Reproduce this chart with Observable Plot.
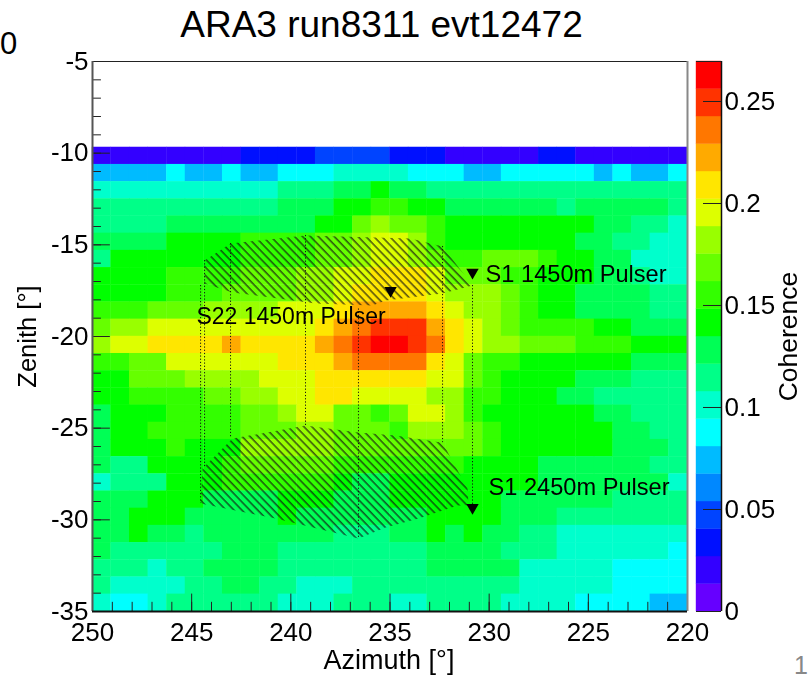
<!DOCTYPE html>
<html>
<head>
<meta charset="utf-8">
<script src="https://cdn.jsdelivr.net/npm/d3@7"></script>
<script src="https://cdn.jsdelivr.net/npm/@observablehq/plot@0.6"></script>
<style>
  html, body { margin: 0; padding: 0; background: #fff; }
  #chart { position: relative; width: 811px; height: 678px; overflow: hidden; font-family: "Liberation Sans", Arial, sans-serif; color: #000; }
  .abs { position: absolute; white-space: nowrap; line-height: 1; }
</style>
</head>
<body>
<div id="chart">
  <svg width="0" height="0" style="position:absolute">
    <defs>
      <pattern id="hatch" patternUnits="userSpaceOnUse" width="5.7" height="5.7" patternTransform="rotate(-44)">
        <line x1="2" y1="0" x2="2" y2="5.7" stroke="#111" stroke-width="1.1"></line>
      </pattern>
    </defs>
  </svg>
  <div class="abs" style="left:0;width:763px;top:6px;text-align:center;font-size:37px">ARA3 run8311 evt12472</div>
  <div class="abs" style="left:0;top:28px;font-size:31px">0</div>
  <div class="abs" style="left:794px;top:653px;font-size:25px;color:#888">1</div>
</div>
<script>
// Coherence in thousandths, top row (zenith -10) first; columns from azimuth 250 toward 220.
const coherenceMilli = [
[20,20,20,20,20,20,20,20,34,34,34,34,47,47,47,47,34,34,34,20,20,20,20,20,34,34,20,20,20,20,20,20],
[74,74,74,74,88,74,74,88,74,74,88,88,88,101,101,101,101,88,88,88,74,74,88,88,88,88,88,74,88,74,74,88],
[101,101,101,101,101,101,101,101,101,101,115,115,115,128,128,142,128,128,115,115,115,115,115,115,115,115,115,115,115,115,115,115],
[115,115,115,115,115,115,115,115,115,115,128,128,128,142,142,155,155,142,142,128,128,128,128,128,128,115,128,128,128,128,128,115],
[115,115,115,115,128,128,128,128,128,128,128,128,142,142,169,182,169,169,155,142,142,142,142,142,142,142,142,128,128,115,115,101],
[128,128,128,128,142,142,142,142,155,155,155,155,169,169,182,196,196,182,155,142,142,142,142,142,142,142,128,128,115,115,101,101],
[115,142,142,142,142,142,142,142,155,155,155,155,169,169,182,196,196,182,169,155,155,169,169,169,155,142,142,128,128,101,101,101],
[142,142,142,142,155,155,155,155,169,169,169,182,182,196,196,209,209,209,196,169,169,169,155,155,142,142,142,128,128,115,101,101],
[142,142,142,142,155,155,155,169,169,169,169,182,182,196,209,209,209,209,196,182,182,182,169,155,142,142,128,128,128,128,115,115],
[155,155,155,169,169,169,182,182,182,182,196,196,196,209,222,222,222,222,209,196,182,182,169,155,142,142,128,128,128,128,115,115],
[169,182,182,196,196,196,196,196,196,196,196,196,209,222,236,249,249,249,222,209,196,182,169,155,155,155,155,142,142,128,128,128],
[182,196,196,209,209,209,209,222,209,209,209,209,222,236,249,263,263,249,236,209,196,182,182,169,169,169,155,155,155,142,142,142],
[155,155,169,169,196,196,196,196,196,196,209,209,209,222,236,236,236,236,209,196,169,155,155,142,142,142,142,142,142,128,128,128],
[142,142,169,169,169,182,182,182,182,196,196,196,209,209,209,209,209,209,196,196,169,155,142,142,142,142,128,128,128,115,115,115],
[142,142,155,155,155,155,169,169,182,182,196,196,209,209,196,196,196,196,182,182,155,155,142,142,142,128,128,115,115,115,115,115],
[128,142,142,142,155,155,155,155,169,169,182,196,196,169,169,155,169,196,196,182,155,142,142,142,142,142,142,128,128,115,115,115],
[128,142,142,155,155,155,155,155,169,169,169,182,182,169,169,169,155,182,182,182,169,155,142,142,142,142,142,142,128,128,115,115],
[128,142,142,142,155,142,142,142,182,182,182,182,182,169,169,169,169,169,169,169,169,155,142,142,142,142,142,142,128,128,128,115],
[128,115,115,142,142,142,142,155,169,169,169,169,169,155,155,155,155,155,155,155,142,142,142,142,128,128,128,128,128,128,115,115],
[101,115,115,115,142,142,142,155,155,155,155,155,155,142,128,128,142,142,142,142,142,142,142,142,128,128,128,128,128,128,128,101],
[128,128,128,142,142,142,128,128,128,128,142,142,142,128,128,128,142,142,142,142,142,142,128,128,128,128,128,128,115,115,115,115],
[128,128,142,142,142,128,128,128,128,128,142,128,128,128,128,128,128,128,142,142,142,142,128,128,128,115,115,115,115,115,115,115],
[128,128,142,128,128,115,128,128,128,128,128,128,128,115,115,115,128,128,142,128,142,128,128,115,115,101,101,101,101,101,101,101],
[128,115,115,115,115,115,115,128,128,128,115,115,115,115,115,115,115,115,128,128,128,128,115,115,115,101,101,101,101,101,101,88],
[115,115,115,101,115,115,128,128,128,128,115,115,115,115,115,115,115,115,128,128,128,128,128,101,101,101,101,101,88,88,88,88],
[115,101,101,101,101,115,115,128,128,115,115,101,101,101,115,115,115,115,115,115,115,115,115,101,101,101,101,101,88,88,88,88],
[101,88,88,101,115,115,115,115,115,115,101,101,101,115,115,115,101,101,115,115,115,115,101,101,101,101,88,88,88,88,74,74]
];
const azimuthStart = 250;
const zenithTop = -9.6875;
const binDegrees = 0.9375;

// Colour levels of the palette, lowest first.
const levelTop = 0.2696;
const palette = ["#6600ff","#3300ff","#0010ff","#0044ff","#0088ff","#00bbff","#00ffff","#00ffcc","#00ff88","#00ff55","#00ff00","#33ff00","#66ff00","#99ff00","#ddff00","#ffe600","#ffaa00","#ff7700","#ff3300","#ff0000"];
const thresholds = palette.slice(1).map((_, i) => (i + 1) * levelTop / palette.length);

const azimuthLabels = [250,245,240,235,230,225,220];
const zenithLabels = [-5,-10,-15,-20,-25,-30,-35];
const azimuthMinor = d3.range(220, 251);
const zenithMinor = d3.range(-35, -4);
const coherenceLabels = [0,0.05,0.1,0.15,0.2,0.25];

const hatchTop = [
  [244.35,-15.86],[243.04,-14.93],[239.26,-14.49],[233.96,-14.66],[232.35,-15.09],[230.84,-17.22],
  [232.35,-17.66],[235.22,-18.04],[235.88,-18.31],[238.75,-18.2],[242.94,-17.6],[244.35,-17.11]
];
const hatchBottom = [
  [244.45,-27.2],[242.94,-25.57],[239.26,-24.86],[236.59,-25.24],[234.72,-25.4],[232.35,-25.79],[231.09,-28.3],[231.04,-29.22],
  [231.59,-29.22],[233.56,-29.93],[235.22,-30.42],[236.59,-31.02],[240.77,-29.93],[244.55,-29.11]
];
const dotted = [
  {az:244.55, from:-17.22, to:-29.11},
  {az:244.35, from:-15.86, to:-27.2},
  {az:243.04, from:-14.93, to:-25.57},
  {az:239.26, from:-14.49, to:-24.86},
  {az:236.59, from:-18.5, to:-31.02},
  {az:232.35, from:-15.09, to:-25.79},
  {az:230.84, from:-17.22, to:-29.22}
];
const pulsers = [{az:230.84, zen:-16.5},{az:234.97, zen:-17.49},{az:230.84, zen:-29.33}];
const pulserLabels = [
  {az:230.18, zen:-16.62, text:"S1 1450m Pulser"},
  {az:230.03, zen:-28.24, text:"S1 2450m Pulser"}
];
const stationLabels = [{az:244.76, zen:-18.91, text:"S22 1450m Pulser"}];

const cells = coherenceMilli.flatMap((row, r) => row.map((v, c) => ({
  az1: azimuthStart - c * binDegrees,
  az2: azimuthStart - (c + 1) * binDegrees,
  zen1: zenithTop - r * binDegrees,
  zen2: zenithTop - (r + 1) * binDegrees,
  value: v / 1000
})));
const poly = (pts, band) => pts.map(([az, zen]) => ({az, zen, band}));
const hatchRows = [...poly(hatchTop, "top"), ...poly(hatchBottom, "bottom")];

const W = 811, H = 678;
const font = '"Liberation Sans", Arial, sans-serif';
const soft = "blur(0.4px)";

const main = Plot.plot({
  width: W, height: H,
  marginLeft: 92, marginRight: 124, marginTop: 61, marginBottom: 67,
  style: {fontFamily: font, background: "transparent", color: "#000", position: "absolute", left: 0, top: 0, filter: soft},
  x: {domain: [250, 220]},
  y: {domain: [-35, -5]},
  color: {type: "threshold", domain: thresholds, range: palette},
  marks: [
    Plot.rect(cells, {x1: "az1", x2: "az2", y1: "zen1", y2: "zen2", fill: "value", inset: -0.2}),
    Plot.line(hatchRows, {x: "az", y: "zen", z: "band", fill: "url(#hatch)", stroke: null}),
    Plot.ruleX(dotted, {x: "az", y1: "from", y2: "to", stroke: "#111", strokeWidth: 1, strokeDasharray: "1.2 2"}),
    Plot.dot(pulsers, {x: "az", y: "zen", symbol: "triangle", r: 4.6, fill: "#000", stroke: null, rotate: 180}),
    Plot.text(pulserLabels, {x: "az", y: "zen", text: "text", textAnchor: "start", fontSize: 23.6, fill: "#000"}),
    Plot.text(stationLabels, {x: "az", y: "zen", text: "text", textAnchor: "start", fontSize: 23, fill: "#000"}),
    Plot.ruleX(azimuthMinor, {x: d => d, y1: -35, y2: -34.5, stroke: "#222", strokeWidth: 1}),
    Plot.ruleX(azimuthLabels, {x: d => d, y1: -35, y2: -34.05, stroke: "#222", strokeWidth: 1}),
    Plot.ruleY(zenithMinor, {y: d => d, x1: 250, x2: 249.55, stroke: "#222", strokeWidth: 1}),
    Plot.ruleY(zenithLabels, {y: d => d, x1: 250, x2: 249.1, stroke: "#222", strokeWidth: 1}),
    Plot.ruleY([-5], {stroke: "#222", strokeWidth: 1}),
    Plot.ruleX([220], {stroke: "#888", strokeWidth: 2}),
    Plot.ruleX([250], {stroke: "#555", strokeWidth: 2}),
    Plot.ruleY([-35], {stroke: "#111", strokeWidth: 2}),
    Plot.axisX(azimuthLabels, {anchor: "bottom", tickSize: 0, tickPadding: 11, fontSize: 26, label: null, tickFormat: d => String(d)}),
    Plot.axisY(zenithLabels, {anchor: "left", tickSize: 0, tickPadding: 4, fontSize: 26, label: null, tickFormat: d => String(d)}),
    Plot.text(["Azimuth [°]"], {frameAnchor: "bottom", dy: 57, dx: -1, text: d => d, fontSize: 27, fill: "#000"}),
    Plot.text(["Zenith [°]"], {frameAnchor: "left", dx: -65, text: d => d, textAnchor: "middle", fontSize: 25.5, rotate: -90, fill: "#000"})
  ]
});

const levels = palette.map((colour, i) => ({
  low: i * levelTop / palette.length,
  high: (i + 1) * levelTop / palette.length,
  colour
}));
const bar = Plot.plot({
  width: W, height: H,
  marginLeft: 696, marginRight: 90, marginTop: 61, marginBottom: 67,
  style: {fontFamily: font, background: "transparent", color: "#000", position: "absolute", left: 0, top: 0, filter: soft},
  x: {domain: [0, 1], axis: null},
  y: {domain: [0, levelTop], axis: null},
  marks: [
    Plot.rect(levels, {x1: () => 0, x2: () => 1, y1: "low", y2: "high", fill: "colour", inset: -0.2}),
    Plot.ruleY(coherenceLabels, {y: d => d, x1: () => 0.28, x2: () => 1, stroke: "#222", strokeWidth: 1}),
    Plot.ruleX([1], {stroke: "#111", strokeWidth: 1.5}),
    Plot.ruleY([0, levelTop], {x1: () => 0, x2: () => 1, stroke: "#222", strokeWidth: 1}),
    Plot.axisY(coherenceLabels, {anchor: "right", tickSize: 0, tickPadding: 3, fontSize: 26, label: null, tickFormat: d => String(d)}),
    Plot.text(["Coherence"], {frameAnchor: "right", dx: 67, text: d => d, textAnchor: "middle", fontSize: 26.5, rotate: -90, fill: "#000"})
  ]
});

const chart = document.getElementById("chart");
chart.appendChild(main);
chart.appendChild(bar);
</script>
</body>
</html>
